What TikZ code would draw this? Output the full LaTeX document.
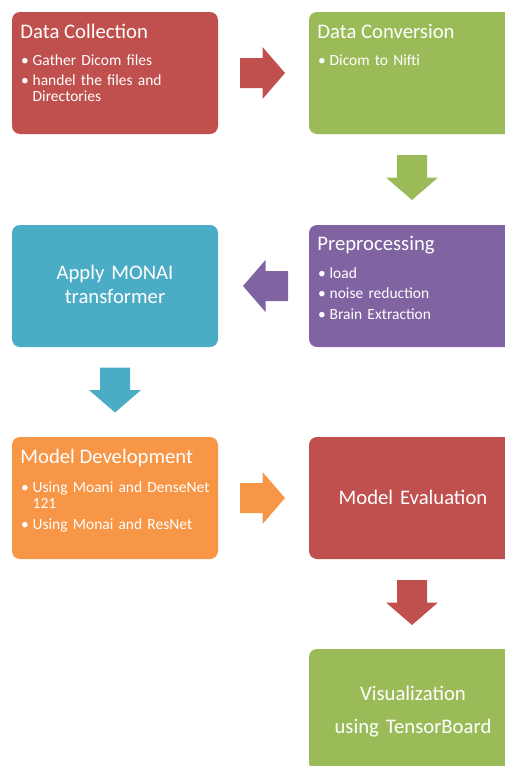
\documentclass[tikz,border=0pt]{standalone}
\usepackage{fontspec}
\setmainfont{Carlito}
\usetikzlibrary{calc}

\definecolor{cRed}{HTML}{C0504D}
\definecolor{cGreen}{HTML}{9BBB59}
\definecolor{cPurple}{HTML}{8064A2}
\definecolor{cCyan}{HTML}{4BACC6}
\definecolor{cOrange}{HTML}{F79646}

% bullet item with hanging indent, and the gap between items
\newcommand\bitem[1]{\noindent\hangindent=12.3pt\hangafter=1\makebox[12.3pt][l]{\hspace{0.8pt}•}#1\par}
\newcommand\bgap{\par\vskip4.5pt}

\tikzset{
  stage/.style={rounded corners=8pt, minimum width=206pt, minimum height=122pt,
    anchor=north west, inner sep=0pt, outer sep=0pt, draw=none},
  stagetitle/.style={anchor=base west, inner sep=0pt, text=white,
    font=\fontsize{20.7}{24}\selectfont},
  bullets/.style={anchor=base west, inner sep=0pt, text=white, text width=195pt,
    align=left, font=\fontsize{15.5}{16}\selectfont},
  centerlabel/.style={anchor=base, inner sep=0pt, text=white, text width=200pt,
    align=center},
  pics/barrow/.style={code={
    \fill[pic actions] (-22.5,-15) -- (0,-15) -- (0,-26) -- (22.5,0)
      -- (0,26) -- (0,15) -- (-22.5,15) -- cycle;}}
}

\begin{document}
\begin{tikzpicture}[x=1pt, y=-1pt]
\useasboundingbox (0,0) rectangle (505,766);
\clip (0,0) rectangle (505,766);

% stages
\node[stage, fill=cRed]    (dc) at (12,12)   {};
\node[stage, fill=cGreen]  (dv) at (309,12)  {};
\node[stage, fill=cPurple] (pp) at (309,225) {};
\node[stage, fill=cCyan]   (am) at (12,225)  {};
\node[stage, fill=cOrange] (md) at (12,437)  {};
\node[stage, fill=cRed]    (me) at (309,437) {};
\node[stage, fill=cGreen]  (vz) at (309,649) {};

% stage texts
\node[stagetitle] (dc-t) at ($(dc.north west)+(8.2,26.5)$) {Data Collection};
\node[bullets] (dc-b) at ($(dc.north west)+(8.2,53)$)
  {\bitem{Gather Dicom files}\bgap\bitem{handel the files and\newline Directories}};

\node[stagetitle] (dv-t) at ($(dv.north west)+(8.2,26)$) {Data Conversion};
\node[bullets] (dv-b) at ($(dv.north west)+(8.2,53)$) {\bitem{Dicom to Nifti}};

\node[stagetitle] (pp-t) at ($(pp.north west)+(8.2,25.5)$) {Preprocessing};
\node[bullets] (pp-b) at ($(pp.north west)+(8.2,53.3)$)
  {\bitem{load}\bgap\bitem{noise reduction}\bgap\bitem{Brain Extraction}};

\node[centerlabel, font=\fontsize{20.7}{23.5}\selectfont] (am-t)
  at ($(am.north)+(0,54.5)$) {Apply MONAI\\transformer};

\node[stagetitle] (md-t) at ($(md.north west)+(8.2,26.5)$) {Model Development};
\node[bullets] (md-b) at ($(md.north west)+(8.2,55.5)$)
  {\bitem{Using Moani and DenseNet\newline 121}\bgap\bitem{Using Monai and ResNet}};

\node[centerlabel, font=\fontsize{20.7}{24}\selectfont] (me-t)
  at ($(me.north)+(1,67)$) {Model Evaluation};

\node[centerlabel, font=\fontsize{20.7}{33.5}\selectfont] (vz-t)
  at ($(vz.north)+(1,51)$) {Visualization\\using TensorBoard};

% block arrows between stages
\pic[fill=cRed] at ($(dc.east)!0.5!(dv.west)+(-1,0)$) {barrow};
\pic[fill=cGreen, rotate=-90] at ($(dv.south)!0.5!(pp.north)+(0,-2)$) {barrow};
\pic[fill=cPurple, rotate=180] at ($(pp.west)!0.5!(am.east)+(2,0)$) {barrow};
\pic[fill=cCyan, rotate=-90] at ($(am.south)!0.5!(md.north)+(0,-2)$) {barrow};
\pic[fill=cOrange] at ($(md.east)!0.5!(me.west)+(-1,0)$) {barrow};
\pic[fill=cRed, rotate=-90] at ($(me.south)!0.5!(vz.north)+(0,-1.5)$) {barrow};
\end{tikzpicture}
\end{document}
